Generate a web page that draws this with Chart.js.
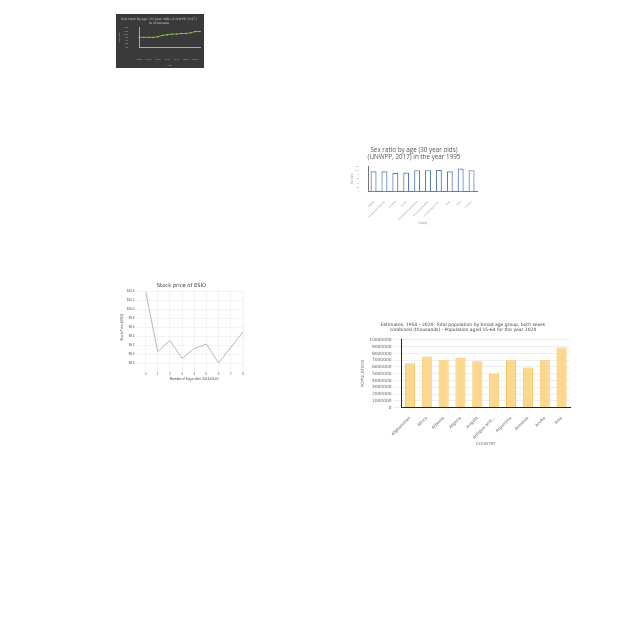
<!DOCTYPE html>
<html><head><meta charset="utf-8">
<script src="https://cdn.jsdelivr.net/npm/chart.js@4"></script>
<style>
html,body{margin:0;padding:0;background:#fff;width:640px;height:640px;overflow:hidden}
canvas{position:absolute}
</style></head><body>
<canvas id="c1" width="88" height="54" style="left:116px;top:14px"></canvas>
<canvas id="c2" width="132" height="82" style="left:349px;top:143px"></canvas>
<canvas id="c3" width="126" height="100" style="left:120px;top:281px"></canvas>
<canvas id="c4" width="222" height="127" style="left:354px;top:319px"></canvas>
<script>
// Chart 1: sex ratio over time
const years1 = ["1950","1955","1960","1965","1970","1975","1980","1985","1990","1995","2000","2005","2010","2015"];
const ratio1 = [95,95,95,95,96,98,99,100,100,101,101,102,104,104];
// Chart 2: sex ratio by country, 1995
const countries2 = ["Algeria","Antigua and Barbuda","Armenia","Austria","Bosnia and Herzegovina","Brunei Darussalam","Central African Rep.","Chile","China","Comoros"];
const ratio2 = [96,96,87,90,101,101,102,96,109,101];
// Chart 3: stock price
const days3 = [0,1,2,3,4,5,6,8];
const price3 = [10.42,9.06,9.31,8.91,9.13,9.23,8.81,9.5];
// Chart 4: population aged 15-64
const countries4 = ["Afghanistan","Africa","Albania","Algeria","Angola","Antigua and...","Argentina","Armenia","Aruba","Asia"];
const pop4 = [6530000,7520000,6970000,7370000,6820000,5000000,6970000,5930000,6970000,8860000];

Chart.defaults.animation = false;
Chart.defaults.devicePixelRatio = 1;
const bgPlugin = {
  id:'bg',
  beforeDraw(chart, args, opts){
    const c = chart.ctx; c.save(); c.fillStyle = opts.color || '#fff';
    c.fillRect(0,0,chart.width,chart.height); c.restore();
  }
};
const fam4 = "'DejaVu Sans', sans-serif";
const cond = (size) => ({size:size, family:fam4, style:'condensed', weight:'normal'});

new Chart(document.getElementById('c1'), {
  type:'line',
  data:{labels:years1, datasets:[{data:ratio1, borderColor:'#8cc850', backgroundColor:'#a0dc60', borderWidth:0.8, pointRadius:0.7, pointBorderWidth:0, tension:0}]},
  options:{responsive:false, layout:{padding:{left:2,right:4,top:1,bottom:1}},
    plugins:{legend:{display:false}, tooltip:{enabled:false}, bg:{color:'#3a3a3a'},
      title:{display:true, text:['Sex ratio by age (30 year olds) (UNWPP, 2017)','in Botswana'], color:'#c8c8c8', font:{size:3.2, family:'DejaVu Serif', weight:'normal'}, padding:{top:2,bottom:3}}},
    scales:{
      x:{grid:{display:false}, border:{color:'#aaa'}, ticks:{color:'#aaa', font:{size:2.5}, maxRotation:0, autoSkip:true, maxTicksLimit:7},
        title:{display:true, text:'Year', color:'#aaa', font:{size:2.5}, padding:0}},
      y:{min:80, max:110, grid:{display:false}, border:{color:'#aaa'}, ticks:{color:'#aaa', font:{size:2.5}, stepSize:5, autoSkip:false},
        title:{display:true, text:'Sex ratio', color:'#aaa', font:{size:2.5}, padding:0}}
    }},
  plugins:[bgPlugin]
});

new Chart(document.getElementById('c2'), {
  type:'bar',
  data:{labels:countries2, datasets:[{data:ratio2, backgroundColor:'#ffffff', borderColor:'#5a7db4', borderWidth:1.2, barPercentage:0.55, categoryPercentage:1}]},
  options:{responsive:false, layout:{padding:{left:2,right:4,top:0,bottom:0}},
    plugins:{legend:{display:false}, tooltip:{enabled:false},
      title:{display:true, text:['Sex ratio by age (30 year olds)','(UNWPP, 2017) in the year 1995'], color:'#555', font:{size:6.3, family:'Open Sans', weight:'normal'}, padding:{top:3,bottom:5}}},
    scales:{
      x:{grid:{display:false}, border:{color:'#777'}, ticks:{color:'#999', font:{size:2.4}, maxRotation:45, minRotation:45, autoSkip:false, padding:1},
        title:{display:true, text:'Country', color:'#999', font:{size:2.6}, padding:0}},
      y:{min:0, max:120, grid:{display:false}, border:{color:'#777'}, ticks:{color:'#999', font:{size:2.4}, stepSize:20, padding:1, autoSkip:false},
        title:{display:true, text:'Sex ratio', color:'#999', font:{size:2.6}, padding:0}}
    }}
});

new Chart(document.getElementById('c3'), {
  type:'line',
  data:{datasets:[{data:days3.map((d,i)=>({x:d,y:price3[i]})), borderColor:'#b8b4cc', borderWidth:1, pointRadius:0, tension:0, fill:false}]},
  options:{responsive:false, layout:{padding:{left:0,right:3,top:0,bottom:0}},
    plugins:{legend:{display:false}, tooltip:{enabled:false},
      title:{display:true, text:'Stock price of ESIO', color:'#333', font:{size:5.2, family:'DejaVu Sans', weight:'normal'}, padding:{top:2,bottom:2}}},
    scales:{
      x:{type:'linear', min:0, max:8, grid:{color:'#e6e6e6', lineWidth:0.5}, border:{display:false}, ticks:{color:'#555', font:{size:3}, stepSize:1, padding:1},
        title:{display:true, text:'Number of Days after 2013-03-01', color:'#444', font:{size:3.3}, padding:0}},
      y:{min:8.8, max:10.4, grid:{color:'#e6e6e6', lineWidth:0.5}, border:{display:false}, ticks:{color:'#555', font:{size:3}, stepSize:0.2, padding:3, autoSkip:false, callback:v=>'$'+v.toFixed(1)},
        title:{display:true, text:'Stock Price (USD)', color:'#444', font:{size:3.3}, padding:0}}
    }}
});

new Chart(document.getElementById('c4'), {
  type:'bar',
  data:{labels:countries4, datasets:[{data:pop4, backgroundColor:'#fcd88e', borderColor:'#f5c45f', borderWidth:1, barPercentage:0.6, categoryPercentage:1}]},
  options:{responsive:false, layout:{padding:{left:2,right:6,top:0,bottom:0}},
    plugins:{legend:{display:false}, tooltip:{enabled:false},
      title:{display:true, text:['Estimates, 1950 - 2020: Total population by broad age group, both sexes','combined (thousands) - Population aged 15-64 for the year 2020'], color:'#444', font:cond(4.5), lineHeight:1.4, padding:{top:3,bottom:7}}},
    scales:{
      x:{grid:{display:false}, border:{color:'#222', width:1}, ticks:{color:'#666', font:cond(4.2), maxRotation:45, minRotation:45, autoSkip:false, padding:0},
        title:{display:true, text:'COUNTRY', color:'#777', font:cond(4.2), padding:{top:1,bottom:0}}},
      y:{min:0, max:10000000, grid:{color:'#e3e3e3', lineWidth:0.6}, border:{color:'#222', width:1}, ticks:{color:'#666', font:cond(4.4), stepSize:1000000, padding:2, autoSkip:false, callback:v=>String(v)},
        title:{display:true, text:'POPULATION', color:'#777', font:cond(4.3), padding:{bottom:2}}}
    }}
});
</script>
</body></html>
